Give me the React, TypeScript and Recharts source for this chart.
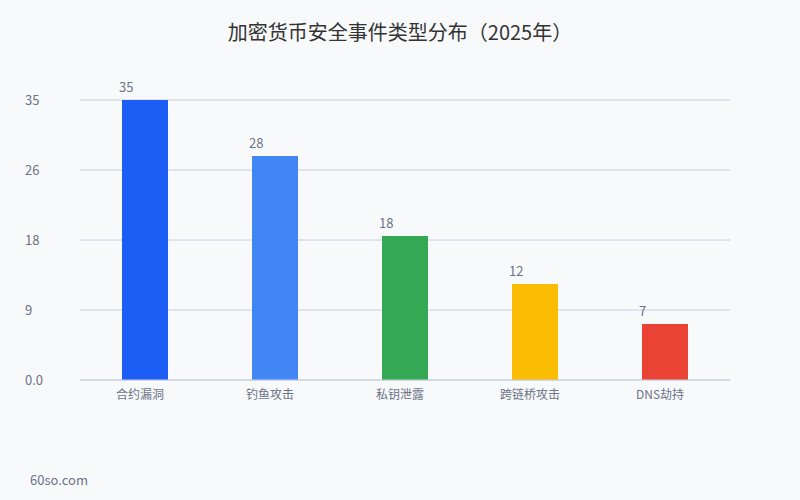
import { BarChart, Bar, XAxis, YAxis, CartesianGrid, Cell, LabelList } from "recharts";

const categories = ["合约漏洞", "钓鱼攻击", "私钥泄露", "跨链桥攻击", "DNS劫持"];
const counts = [35, 28, 18, 12, 7];
const barColors = ["#1c5ef5", "#4285f4", "#34a853", "#fbbc04", "#ea4335"];
const yTicks = [0, 8.75, 17.5, 26.25, 35];

const data = categories.map((name, i) => ({ name, value: counts[i] }));

const font = '"Noto Sans CJK SC", "Noto Sans", sans-serif';
const textColor = "#6b7385";
const gridColor = "#c6cee0";

function YTick({ y, payload }: any) {
  const v = payload.value as number;
  return (
    <text x={25} y={y} dy={5} textAnchor="start" fontSize={13} fill={textColor} fontFamily={font}>
      {v === 0 ? "0.0" : Math.round(v)}
    </text>
  );
}

function XTick({ x, y, payload }: any) {
  return (
    <text x={Number(x) - 5} y={y} dy={11} textAnchor="middle" fontSize={12} fill={textColor} fontFamily={font}>
      {payload.value}
    </text>
  );
}

function ValueLabel({ x, y, value }: any) {
  return (
    <text x={Number(x) - 3} y={Number(y) - 8} textAnchor="start" fontSize={13} fill={textColor} fontFamily={font}>
      {value}
    </text>
  );
}

export default function App() {
  return (
    <div style={{ position: "absolute", left: 0, top: 0, width: 800, height: 500, background: "#f8f9fb", fontFamily: font }}>
      <div style={{ position: "absolute", top: 16, left: 0, width: 800, textAlign: "center", fontSize: 20, color: "#333", lineHeight: "32px" }}>
        加密货币安全事件类型分布（2025年）
      </div>
      <BarChart width={800} height={500} data={data} margin={{ top: 100, right: 70, bottom: 90, left: 25 }}>
        <CartesianGrid horizontal vertical={false} stroke={gridColor} />
        <XAxis
          dataKey="name"
          height={30}
          tickLine={false}
          axisLine={{ stroke: gridColor }}
          tick={<XTick />}
          interval={0}
        />
        <YAxis
          width={55}
          domain={[0, 35]}
          ticks={yTicks}
          tickLine={false}
          axisLine={false}
          tick={<YTick />}
        />
        <Bar dataKey="value" barSize={46} isAnimationActive={false}>
          {data.map((d, i) => (
            <Cell key={d.name} fill={barColors[i]} />
          ))}
          <LabelList dataKey="value" content={<ValueLabel />} />
        </Bar>
      </BarChart>
      <div style={{ position: "absolute", left: 30, top: 470, fontSize: 13, color: textColor }}>60so.com</div>
    </div>
  );
}
